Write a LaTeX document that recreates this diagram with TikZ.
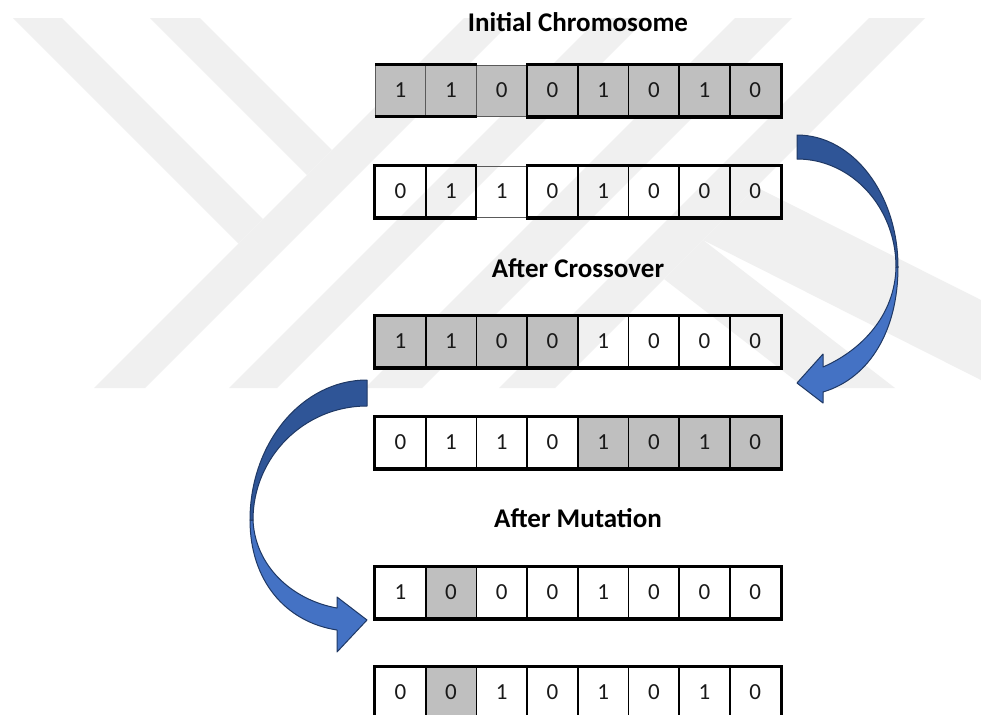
\documentclass[tikz,border=0pt]{standalone}
\usepackage{fontspec}
\setmainfont{Carlito}
\definecolor{wm}{HTML}{F0F0F0}
\definecolor{cellg}{HTML}{BFBFBF}
\definecolor{adark}{HTML}{2F5597}
\definecolor{alight}{HTML}{4472C4}
\definecolor{aline}{HTML}{1F3864}
\definecolor{thinline}{HTML}{5A5A5A}
\tikzset{
 cell/.style={draw=black, line width=0.9pt, minimum width=25.35pt, minimum height=25.5pt, inner sep=0pt, font=\fontsize{11.5}{13}\selectfont, text=black!90},
 thincell/.style={cell, draw=thinline, line width=0.5pt},
 rowborder/.style={draw=black, line width=1.6pt},
 divider/.style={draw=black, line width=0.9pt},
 title/.style={font=\bfseries\fontsize{13.5}{16}\selectfont},
 watermark/.style={fill=wm, draw=none},
 arrowtop/.style={fill=adark, draw=aline, line width=0.5pt, line join=round},
 arrowbot/.style={fill=alight, draw=aline, line width=0.5pt, line join=round},
}
\newcommand{\chromrow}[3]{%
 \foreach [count=\i] \v/\f/\s in {#3} {
   \node[\s, fill=\f] (#1c\i) at ({375+50.7*(\i-0.5)}, {#2+25.5}) {\v};
 }}
\begin{document}
\begin{tikzpicture}[x=0.5pt,y=-0.5pt]
\clip (0,0) rectangle (981,714);
\fill[white] (0,0) rectangle (981,714);
% watermark
\fill[watermark] (13,18) -- (62,18) -- (263,219) -- (238.5,243.5) -- cycle;
\fill[watermark] (150,18) -- (200,18) -- (332,150) -- (307,175) -- cycle;
\fill[watermark] (464,18) -- (515,18) -- (145,388) -- (94,388) -- cycle;
\fill[watermark] (599,18) -- (647,18) -- (277,388) -- (229,388) -- cycle;
\fill[watermark] (735,18) -- (792,18) -- (422,388) -- (365,388) -- cycle;
\fill[watermark] (869,18) -- (925,18) -- (555,388) -- (499,388) -- cycle;
\fill[watermark] (703,240) -- (981,380) -- (981,300) -- (756,187) -- cycle;
\fill[watermark] (703,240) -- (895,388) -- (805,388) -- (664,279) -- cycle;
% titles
\node[title] (t1) at (578,22) {Initial Chromosome};
\node[title] (t2) at (578,268) {After Crossover};
\node[title] (t3) at (578,518) {After Mutation};
% row 1
\chromrow{r1}{65}{1/cellg/thincell,1/cellg/thincell,0/cellg/thincell,0/cellg/cell,1/cellg/cell,0/cellg/cell,1/cellg/cell,0/cellg/cell}
\draw[rowborder] (r1c2.north east) -- (r1c1.north west);
\draw[rowborder] (r1c1.south west) -- (r1c2.south east);
\draw[rowborder] (r1c4.north west) -- (r1c8.north east) -- (r1c8.south east) -- (r1c4.south west);
% row 2
\chromrow{r2}{166}{0/none/cell,1/none/cell,1/none/thincell,0/none/cell,1/none/cell,0/none/cell,0/none/cell,0/none/cell}
\draw[divider] (r2c3.north west) -- (r2c3.south west);
\draw[rowborder] (r2c2.north east) -- (r2c1.north west) -- (r2c1.south west) -- (r2c2.south east);
\draw[rowborder] (r2c4.north west) -- (r2c8.north east) -- (r2c8.south east) -- (r2c4.south west);
% row 3
\chromrow{r3}{316}{1/cellg/cell,1/cellg/cell,0/cellg/cell,0/cellg/cell,1/none/cell,0/none/cell,0/none/cell,0/none/cell}
\draw[rowborder] (r3c1.north west) rectangle (r3c8.south east);
% row 4
\chromrow{r4}{417}{0/none/cell,1/none/cell,1/none/cell,0/none/cell,1/cellg/cell,0/cellg/cell,1/cellg/cell,0/cellg/cell}
\draw[rowborder] (r4c1.north west) rectangle (r4c8.south east);
% row 5
\chromrow{r5}{567}{1/none/cell,0/cellg/cell,0/none/cell,0/none/cell,1/none/cell,0/none/cell,0/none/cell,0/none/cell}
\draw[rowborder] (r5c1.north west) rectangle (r5c8.south east);
% row 6
\chromrow{r6}{667}{0/none/cell,0/cellg/cell,1/none/cell,0/none/cell,1/none/cell,0/none/cell,1/none/cell,0/none/cell}
\draw[rowborder] (r6c1.north west) rectangle (r6c8.south east);
% arrow 1 (right side)
\coordinate (a1tail) at (797,135);
\coordinate (a1tip) at (797,383);
\draw[arrowbot] (898,267) .. controls (898,330) and (870,378) .. (823,392) -- (823,403) -- (a1tip) -- (823,354) -- (823,367) .. controls (862,350) and (895,315) .. (896,267) -- cycle;
\draw[arrowtop] (a1tail) .. controls (852.8,135) and (898,194.1) .. (898,267) -- (896,267) .. controls (896,207.4) and (851.6,159) .. (797,159) -- cycle;
% arrow 2 (left side)
\coordinate (a2tail) at (367,380);
\coordinate (a2tip) at (367,620);
\draw[arrowbot] (250,520) .. controls (250,580) and (285,622) .. (337,630) -- (337,652) -- (a2tip) -- (337,597) -- (337,608) .. controls (292,600) and (255,566) .. (253,520) -- cycle;
\draw[arrowtop] (a2tail) .. controls (302.4,380) and (250,442.7) .. (250,520) -- (253,520) .. controls (253,457.1) and (304.1,406) .. (367,406) -- cycle;
\end{tikzpicture}
\end{document}
